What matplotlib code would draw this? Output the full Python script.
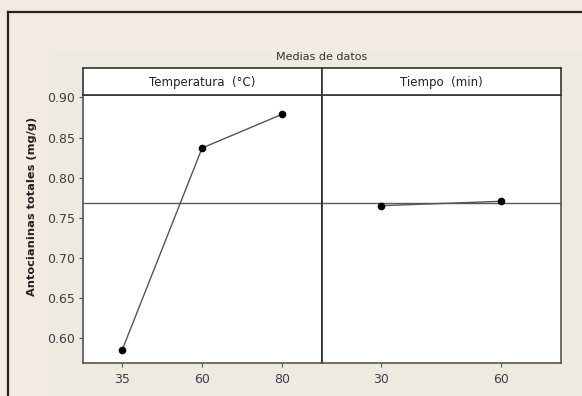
import matplotlib
matplotlib.use("Agg")
import matplotlib.pyplot as plt
from matplotlib.patches import Rectangle
from matplotlib.lines import Line2D

# Data
temp_labels = ["35", "60", "80"]
temp_means = [0.585, 0.837, 0.879]
time_labels = ["30", "60"]
time_means = [0.765, 0.7705]
grand_mean = 0.768
yticks = [0.60, 0.65, 0.70, 0.75, 0.80, 0.85, 0.90]

W, H = 582, 396
fig = plt.figure(figsize=(W / 100, H / 100), dpi=100)
fig.patch.set_facecolor("#F3EBE1")

def fx(px):
    return px / W

def fy(py):
    return 1 - py / H

# inner lighter region
fig.add_artist(Rectangle((fx(50), 0), 1 - fx(50), fy(51), transform=fig.transFigure,
                         facecolor="#EEEAE0", edgecolor="none", zorder=-10))
# outer border lines
fig.add_artist(Line2D([fx(8), 1], [fy(12), fy(12)], transform=fig.transFigure, color="#222222", lw=1.6, zorder=-5))
fig.add_artist(Line2D([fx(8), fx(8)], [0, fy(12)], transform=fig.transFigure, color="#222222", lw=1.6, zorder=-5))

x0, xm, x1 = 83, 322, 561
ytop, ystrip, ybot = 68, 95, 363
ylim = (0.5688, 0.9031)

axL = fig.add_axes([fx(x0), fy(ybot), fx(xm - x0), fy(ystrip) - fy(ybot)])
axR = fig.add_axes([fx(xm), fy(ybot), fx(x1 - xm), fy(ystrip) - fy(ybot)], sharey=axL)
sL = fig.add_axes([fx(x0), fy(ystrip), fx(xm - x0), fy(ytop) - fy(ystrip)])
sR = fig.add_axes([fx(xm), fy(ystrip), fx(x1 - xm), fy(ytop) - fy(ystrip)])

edge = "#555555"
tick_color = "#3a3f4a"
for ax, labels, vals in [(axL, temp_labels, temp_means), (axR, time_labels, time_means)]:
    ax.set_facecolor("white")
    xs = list(range(len(labels)))
    ax.axhline(grand_mean, color="#5a5a5a", lw=1.0, zorder=1)
    ax.plot(xs, vals, color="#555555", lw=1.0, zorder=2)
    ax.plot(xs, vals, "o", color="black", ms=4.5, zorder=3)
    ax.set_xticks(xs)
    ax.set_xticklabels(labels)
    ax.set_xlim(-0.49, len(labels) - 0.5)
    for s in ax.spines.values():
        s.set_color(edge)
        s.set_linewidth(1.2)
    ax.tick_params(axis="x", direction="out", length=3, width=0.8, color=edge,
                   labelsize=9, labelcolor=tick_color, pad=4)

axL.set_ylim(*ylim)
axL.set_yticks(yticks)
axL.set_yticklabels([f"{v:.2f}" for v in yticks])
axL.tick_params(axis="y", direction="out", length=3, width=0.8, color=edge,
                labelsize=9, labelcolor=tick_color, pad=3)
axR.tick_params(axis="y", left=False, labelleft=False)
axR.spines["left"].set_color("#222222")

for s, title in [(sL, "Temperatura  (°C)"), (sR, "Tiempo  (min)")]:
    s.set_facecolor("white")
    s.set_xticks([])
    s.set_yticks([])
    for sp in s.spines.values():
        sp.set_color("#333333")
        sp.set_linewidth(1.2)
    s.text(0.5, 0.45, title, ha="center", va="center", fontsize=8.5, color="#222222",
           transform=s.transAxes)

fig.text(fx(322), fy(57), "Medias de datos", ha="center", va="center", fontsize=8, color="#333333")
fig.text(fx(32), fy(206), "Antocianinas totales (mg/g)", rotation=90, ha="center", va="center",
         fontsize=8.2, fontweight="bold", color="#222222")

fig.savefig("out.png", dpi=100, facecolor=fig.get_facecolor())
